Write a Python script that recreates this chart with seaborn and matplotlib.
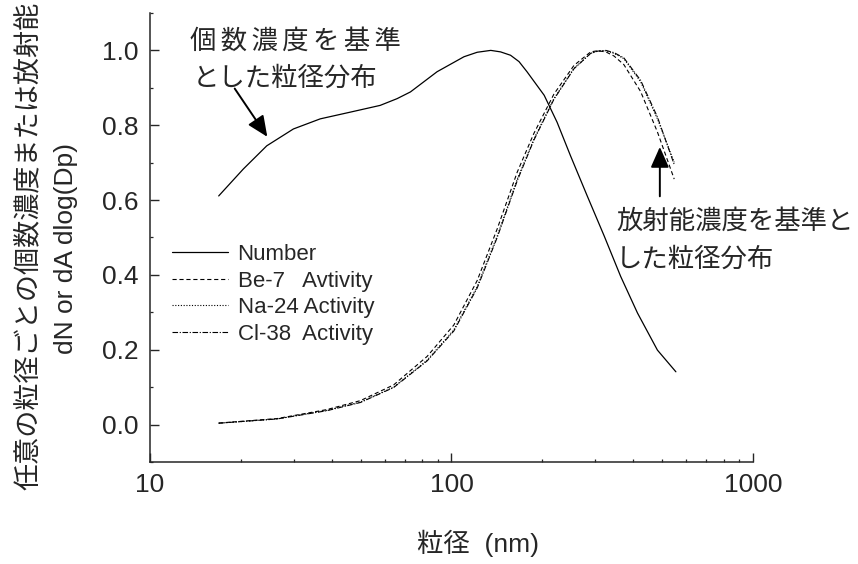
import numpy as np
import pandas as pd
import matplotlib
matplotlib.use("Agg")
import matplotlib.pyplot as plt
from matplotlib.ticker import FixedLocator, FixedFormatter, MultipleLocator, LogLocator, NullFormatter
import seaborn as sns

# ---------------- data ----------------
number_x = [16.9, 20.4, 24.4, 29.9, 36.7, 46.2, 58.0, 66.0, 73.1, 89.6, 110, 121.7, 135,
            145.5, 157, 167.5, 178, 203, 224, 248, 282, 321, 364, 414, 482, 555]
number_y = [0.611, 0.683, 0.745, 0.790, 0.817, 0.835, 0.853, 0.871, 0.889, 0.943, 0.983,
            0.995, 1.0, 0.996, 0.987, 0.970, 0.943, 0.880, 0.808, 0.719, 0.611, 0.504,
            0.396, 0.298, 0.199, 0.141]

act_x = [16.9, 26.4, 38.6, 49.9, 64.3, 83.0, 101.8, 121.7, 141.8, 165.3, 187.6, 218.6,
         254.9, 289.5, 305, 325, 346, 373, 424, 482, 548]
be7_y = [0.004, 0.016, 0.040, 0.064, 0.106, 0.182, 0.266, 0.385, 0.523, 0.675, 0.778,
         0.883, 0.960, 0.996, 0.999, 0.996, 0.985, 0.962, 0.890, 0.782, 0.656]
na24_y = [0.0036, 0.015, 0.038, 0.060, 0.100, 0.172, 0.253, 0.369, 0.504, 0.656, 0.763,
          0.871, 0.952, 0.992, 0.998, 0.999, 0.992, 0.978, 0.916, 0.817, 0.701]
cl38_y = [0.0036, 0.015, 0.037, 0.059, 0.099, 0.170, 0.250, 0.365, 0.500, 0.652, 0.760,
          0.869, 0.951, 0.992, 0.998, 1.0, 0.994, 0.980, 0.920, 0.822, 0.695]

series_labels = ["Number", "Be-7   Avtivity", "Na-24 Activity", "Cl-38  Activity"]
x_ticks = [10, 100, 1000]
x_tick_labels = ["10", "100", "1000"]
y_ticks = [0.0, 0.2, 0.4, 0.6, 0.8, 1.0]
y_tick_labels = ["0.0", "0.2", "0.4", "0.6", "0.8", "1.0"]

ylabel_jp = "任意の粒径ごとの個数濃度または放射能"
ylabel_en = "dN or dA dlog(Dp)"
xlabel = "粒径  (nm)"
note1_l1 = "\u2006".join("個数濃度を基準")
note1_l2 = "とした粒径分布"
note2_l1 = "放射能濃度を基準と"
note2_l2 = "した粒径分布"

# ---------------- style ----------------
sns.set_style("ticks")
plt.rcParams["font.family"] = ["Liberation Sans", "Noto Sans CJK JP", "DejaVu Sans"]
plt.rcParams["lines.scale_dashes"] = False
plt.rcParams["axes.linewidth"] = 1.1

fig = plt.figure(figsize=(8.58, 5.64), dpi=100)
ax = fig.add_axes([0.1748, 0.1809, 0.7028, 0.7961])

frames = [
    pd.DataFrame({"x": number_x, "y": number_y, "s": series_labels[0]}),
    pd.DataFrame({"x": act_x, "y": be7_y, "s": series_labels[1]}),
    pd.DataFrame({"x": act_x, "y": na24_y, "s": series_labels[2]}),
    pd.DataFrame({"x": act_x, "y": cl38_y, "s": series_labels[3]}),
]
styles = ["-", (0, (3, 2)), (0, (0.8, 1.2)), (0, (4, 1.2, 0.8, 1.2))]
widths = [0.9, 0.8, 0.8, 0.8]

for df, ls, lw in zip(frames, styles, widths):
    sns.lineplot(data=df, x="x", y="y", ax=ax, color="black", linestyle=ls,
                 linewidth=lw, label=df["s"].iloc[0], errorbar=None, sort=True)

ax.set_xscale("log")
ax.set_xlim(10, 1000)
ax.set_ylim(-0.1, 1.1)

ax.xaxis.set_major_locator(FixedLocator(x_ticks))
ax.xaxis.set_major_formatter(FixedFormatter(x_tick_labels))
ax.xaxis.set_minor_locator(LogLocator(base=10, subs=np.arange(2, 10)))
ax.xaxis.set_minor_formatter(NullFormatter())
ax.yaxis.set_major_locator(FixedLocator(y_ticks))
ax.yaxis.set_major_formatter(FixedFormatter(y_tick_labels))
ax.yaxis.set_minor_locator(MultipleLocator(0.1))

ax.tick_params(which="major", direction="in", length=6.5, width=1.0, labelsize=19, pad=8)
ax.tick_params(which="minor", direction="in", length=2.5, width=0.9)
sns.despine(ax=ax, top=True, right=True)
ax.set_xlabel("")
ax.set_ylabel("")

leg = ax.legend(loc="center left", bbox_to_anchor=(0.0365, 0.373), frameon=False,
                fontsize=16, handlelength=2.5, handletextpad=0.45, labelspacing=0.25,
                borderpad=0, borderaxespad=0)

# axis titles
fig.text(28 / 858, 1 - 246 / 564, ylabel_jp, rotation=90, ha="center", va="center",
         fontsize=19.5, family=["Noto Sans CJK JP", "DejaVu Sans"])
fig.text(66 / 858, 1 - 249 / 564, ylabel_en, rotation=90, ha="center", va="center",
         fontsize=19)
fig.text(478 / 858, 1 - 543 / 564, xlabel, ha="center", va="center", fontsize=19)

# annotations
cjk = ["Noto Sans CJK JP", "DejaVu Sans"]
ax.text(13.6, 1.024, note1_l1, ha="left", va="center", fontsize=19, family=cjk, clip_on=False)
ax.text(13.9, 0.925, note1_l2, ha="left", va="center", fontsize=19, family=cjk, clip_on=False)
ax.annotate("", xy=(24.5, 0.769), xytext=(19.1, 0.898),
            arrowprops=dict(arrowstyle="-|>,head_length=0.9,head_width=0.4",
                            color="black", lw=1.4, mutation_scale=14, shrinkA=0, shrinkB=0))
ax.text(351, 0.543, note2_l1, ha="left", va="center", fontsize=19, family=cjk, clip_on=False)
ax.text(351, 0.441, note2_l2, ha="left", va="center", fontsize=19, family=cjk, clip_on=False)
ax.annotate("", xy=(491, 0.742), xytext=(491, 0.610),
            arrowprops=dict(arrowstyle="-|>,head_length=0.9,head_width=0.4",
                            color="black", lw=1.4, mutation_scale=14, shrinkA=0, shrinkB=0))

fig.savefig("out.png", dpi=100)
